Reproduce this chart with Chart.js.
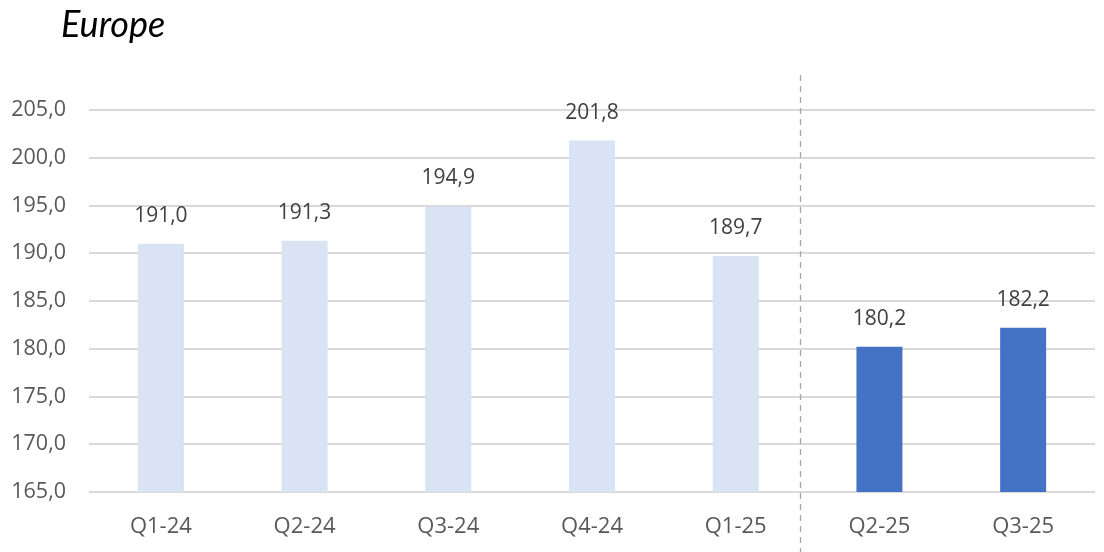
<!DOCTYPE html>
<html>
<head>
<meta charset="utf-8">
<script src="https://cdn.jsdelivr.net/npm/chart.js@4/dist/chart.umd.min.js"></script>
<style>
  html, body { margin: 0; padding: 0; background: #fff; }
  #wrap { width: 1104px; height: 552px; position: relative; }
</style>
</head>
<body>
<div id="wrap"><canvas id="europe-chart"></canvas></div>
<script>
// Quarterly values
const quarters = ['Q1-24', 'Q2-24', 'Q3-24', 'Q4-24', 'Q1-25', 'Q2-25', 'Q3-25'];
const values = [191.0, 191.3, 194.9, 201.8, 189.7, 180.2, 182.2];
const yTicks = [165, 170, 175, 180, 185, 190, 195, 200, 205];

const COLORS = {
  past: '#dae3f3',
  recent: '#4472c4',
  grid: '#d9d9d9',
  tick: '#595959',
  label: '#404040'
};

// first index drawn in the darker colour (after the dashed divider)
const splitIndex = 5;

const fmt = v => v.toFixed(1).replace('.', ',');

const ctx = document.getElementById('europe-chart').getContext('2d');

new Chart(ctx, {
  type: 'bar',
  data: {
    labels: quarters,
    datasets: [{
      data: values,
      backgroundColor: values.map((v, i) => i >= splitIndex ? COLORS.recent : COLORS.past),
      borderWidth: 0,
      categoryPercentage: 1,
      barPercentage: 0.32
    }]
  },
  options: {
    responsive: true,
    maintainAspectRatio: false,
    animation: false,
    events: [],
    layout: {
      padding: { left: 0, right: 9, top: 110, bottom: 0 }
    },
    plugins: {
      legend: { display: false },
      tooltip: { enabled: false },
      title: { display: false }
    },
    scales: {
      x: {
        grid: { display: false },
        border: { display: false },
        ticks: {
          color: COLORS.tick,
          font: { family: 'Open Sans', size: 22 },
          padding: 14
        },
        afterFit: (axis) => { axis.height = 60; }
      },
      y: {
        min: 165,
        max: 205,
        afterBuildTicks: (axis) => {
          axis.ticks = yTicks.map(v => ({ value: v }));
        },
        grid: {
          color: COLORS.grid,
          lineWidth: 2,
          drawTicks: false
        },
        border: { display: false },
        ticks: {
          color: COLORS.tick,
          font: { family: 'Open Sans', size: 21.5 },
          padding: 23,
          callback: (v) => fmt(v)
        },
        afterFit: (axis) => { axis.width = 89; }
      }
    }
  },
  plugins: [{
    // title, divider and value labels
    id: 'extras',
    afterDatasetsDraw: (chart) => {
      const c = chart.ctx;
      const xScale = chart.scales.x;
      c.save();

      // title
      c.font = 'italic 36px Lato';
      c.fillStyle = '#000';
      c.textAlign = 'left';
      c.textBaseline = 'alphabetic';
      c.fillText('Europe', 61, 37);

      // dashed divider between Q1-25 and Q2-25
      const xd = Math.round(xScale.getPixelForValue(splitIndex - 0.55)) + 0.5;
      c.strokeStyle = '#a6a6a6';
      c.lineWidth = 1.3;
      c.setLineDash([6, 5]);
      c.beginPath();
      c.moveTo(xd, 75);
      c.lineTo(xd, chart.height);
      c.stroke();
      c.setLineDash([]);

      // value labels
      c.font = '21px "Open Sans"';
      c.fillStyle = COLORS.label;
      c.textAlign = 'center';
      const meta = chart.getDatasetMeta(0);
      meta.data.forEach((bar, i) => {
        c.fillText(fmt(values[i]), bar.x, bar.y - 22);
      });
      c.restore();
    }
  }]
});
</script>
</body>
</html>
